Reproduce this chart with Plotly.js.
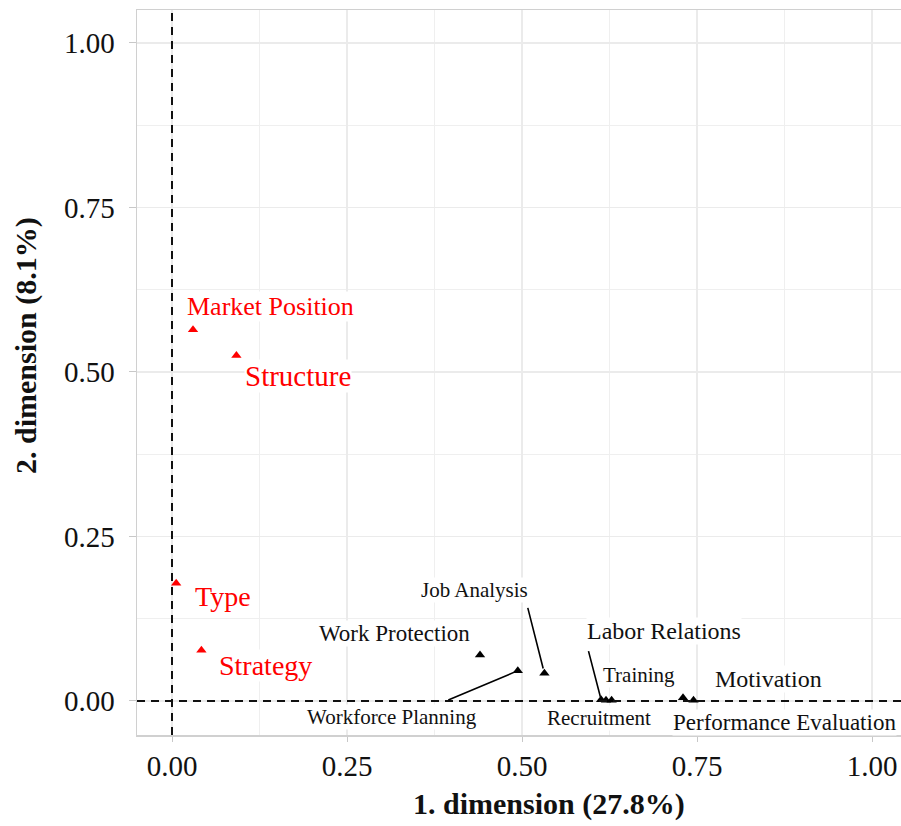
<!DOCTYPE html>
<html>
<head>
<meta charset="utf-8">
<script src="https://cdn.plot.ly/plotly-3.0.1.min.js"></script>
<style>html,body{margin:0;padding:0;background:#fff;}#chart{width:901px;height:826px;}</style>
</head>
<body>
<div id="chart"></div>
<script>
// Red group (organisation characteristics)
var redLabels = ["Market Position", "Structure", "Type", "Strategy"];
var redX = [0.030, 0.092, 0.006, 0.042];
var redY = [0.564, 0.525, 0.179, 0.077];

// Black group (HR functions)
var blackLabels = ["Work Protection", "Workforce Planning", "Job Analysis", "Labor Relations",
                   "Recruitment", "Training", "Motivation", "Performance Evaluation"];
var blackX = [0.440, 0.494, 0.532, 0.613, 0.620, 0.628, 0.730, 0.745];
var blackY = [0.070, 0.046, 0.042, 0.002, 0.001, 0.001, 0.005, 0.001];

var tickVals = [0, 0.25, 0.5, 0.75, 1.0];
var tickText = ["0.00", "0.25", "0.50", "0.75", "1.00"];

var xTitle = "1. dimension (27.8%)";
var yTitle = "2. dimension (8.1%)";

// label placement (pixel offsets from the point) and sizes
var redOff = [[77, 23, 26], [62, -21, 29], [47, -13, 28], [64, -15, 28]];
var blackOff = [[-86, 21, 23], [-126, -46, 21], [-70, 83, 21], [63, 69, 24],
                [-7, -18, 21], [27, 25, 21], [85, 19, 24], [91, -22, 23]];
// leader segments: index into black group, tail offset in pixels
var segs = [[2, -17, -67, 5], [1, -71, 30, 3], [3, -13, -50, 3]];

var FONT = "Liberation Serif, Times New Roman, serif";

var traces = [
  {x: redX, y: redY, type: "scatter", mode: "markers", cliponaxis: false,
   marker: {symbol: "triangle-up", size: 9, color: "#ff0000"}, hoverinfo: "text", text: redLabels},
  {x: blackX, y: blackY, type: "scatter", mode: "markers", cliponaxis: false,
   marker: {symbol: "triangle-up", size: 9, color: "#000000"}, hoverinfo: "text", text: blackLabels}
];

var ann = [];
redLabels.forEach(function (t, i) {
  ann.push({x: redX[i], y: redY[i], xref: "x", yref: "y", text: t, showarrow: false,
            xshift: redOff[i][0], yshift: redOff[i][1], bgcolor: "#ffffff", borderpad: 0,
            font: {family: FONT, size: redOff[i][2], color: "#ff0000"}});
});
blackLabels.forEach(function (t, i) {
  ann.push({x: blackX[i], y: blackY[i], xref: "x", yref: "y", text: t, showarrow: false,
            xshift: blackOff[i][0], yshift: blackOff[i][1], bgcolor: "#ffffff", borderpad: 0,
            font: {family: FONT, size: blackOff[i][2], color: "#111111"}});
});
segs.forEach(function (s) {
  var i = s[0];
  ann.push({x: blackX[i], y: blackY[i], xref: "x", yref: "y", text: "", showarrow: true,
            arrowhead: 0, arrowwidth: 1.6, arrowcolor: "#000000", ax: s[1], ay: s[2],
            standoff: s[3], startstandoff: 0});
});
ann.push({xref: "paper", yref: "paper", x: (549 - 137) / 764, y: -(804 - 735) / 725,
          text: "<b>" + xTitle + "</b>", showarrow: false, xanchor: "center", yanchor: "middle",
          font: {family: FONT, size: 30, color: "#111111"}});
ann.push({xref: "paper", yref: "paper", x: (26 - 137) / 764, y: (735 - 346) / 725,
          text: "<b>" + yTitle + "</b>", showarrow: false, textangle: -90,
          xanchor: "center", yanchor: "middle",
          font: {family: FONT, size: 30, color: "#111111"}});

var layout = {
  width: 901, height: 826,
  margin: {l: 137, r: 0, t: 10, b: 91},
  paper_bgcolor: "#ffffff", plot_bgcolor: "#ffffff",
  showlegend: false,
  font: {family: FONT, color: "#111111"},
  xaxis: {range: [-0.05, 1.0414], tickvals: tickVals, ticktext: tickText,
          showgrid: true, gridcolor: "#ebebeb", gridwidth: 1.2,
          minor: {dtick: 0.125, tick0: 0, showgrid: true, gridcolor: "#efefef", gridwidth: 1},
          zeroline: false, showline: true, mirror: true, linecolor: "#d0d0d0", linewidth: 1.5,
          ticks: "outside", ticklen: 5, tickcolor: "#c8c8c8", tickwidth: 1,
          tickfont: {family: FONT, size: 29, color: "#111111"}, ticklabelstandoff: 0},
  yaxis: {range: [-0.0517, 1.05], tickvals: tickVals, ticktext: tickText,
          showgrid: true, gridcolor: "#ebebeb", gridwidth: 1.2,
          minor: {dtick: 0.125, tick0: 0, showgrid: true, gridcolor: "#efefef", gridwidth: 1},
          zeroline: false, showline: true, mirror: false, linecolor: "#d0d0d0", linewidth: 1.5,
          ticks: "outside", ticklen: 7, tickcolor: "#c8c8c8", tickwidth: 1,
          tickfont: {family: FONT, size: 29, color: "#111111"}, ticklabelstandoff: 8},
  shapes: [
    {type: "line", xref: "x", yref: "paper", x0: 0, x1: 0, y0: 0, y1: 1,
     line: {color: "#111111", width: 2, dash: "8px,6px"}, layer: "above"},
    {type: "line", xref: "paper", yref: "y", x0: 0, x1: 1, y0: 0, y1: 0,
     line: {color: "#111111", width: 2, dash: "8px,6px"}, layer: "above"}
  ],
  annotations: ann
};

Plotly.newPlot("chart", traces, layout, {displayModeBar: false, staticPlot: true});
</script>
</body>
</html>
